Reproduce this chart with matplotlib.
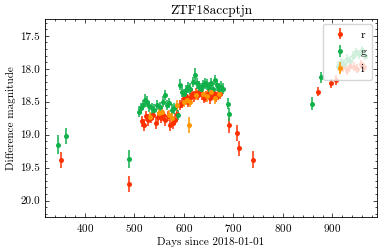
import numpy as np
import matplotlib
matplotlib.use("Agg")
import matplotlib.pyplot as plt

plt.rcParams['font.family'] = 'serif'
plt.rcParams['font.serif'] = ['cmr10', 'DejaVu Serif']
plt.rcParams['axes.formatter.use_mathtext'] = True
plt.rcParams['mathtext.fontset'] = 'cm'
plt.rcParams['font.size'] = 8

# r band
r_days = [352, 489, 515, 519, 523, 528, 533, 538, 543, 548, 553, 558, 563, 568, 573,
          578, 582, 587, 592, 596, 600, 604, 608, 612, 617, 621, 625, 629, 633, 637,
          641, 645, 649, 653, 657, 661, 665, 669, 673, 692, 708, 712, 739,
          871, 897, 907, 915, 922, 929, 936, 943, 950, 957, 964]
r_mags = [19.38, 19.75, 18.80, 18.85, 18.72, 18.78, 18.75, 18.70, 18.82, 18.73, 18.75,
          18.70, 18.78, 18.72, 18.85, 18.82, 18.77, 18.68, 18.55, 18.52, 18.45, 18.42,
          18.50, 18.45, 18.38, 18.42, 18.37, 18.40, 18.35, 18.39, 18.44, 18.42, 18.38,
          18.45, 18.40, 18.37, 18.43, 18.40, 18.38, 18.86, 18.97, 19.21, 19.38,
          18.35, 18.22, 18.17, 18.00, 17.98, 18.02, 17.95, 17.97, 18.00, 17.93, 17.98]
r_errs = [0.12, 0.12, 0.09, 0.09, 0.08, 0.09, 0.08, 0.08, 0.09, 0.08, 0.08,
          0.08, 0.09, 0.08, 0.10, 0.09, 0.08, 0.08, 0.08, 0.08, 0.08, 0.08,
          0.08, 0.08, 0.08, 0.08, 0.08, 0.08, 0.08, 0.08, 0.08, 0.08, 0.08,
          0.08, 0.08, 0.08, 0.08, 0.08, 0.08, 0.12, 0.12, 0.12, 0.13,
          0.07, 0.07, 0.07, 0.07, 0.07, 0.07, 0.07, 0.07, 0.07, 0.07, 0.07]

# g band
g_days = [347, 362, 489, 510, 514, 518, 522, 526, 530, 535, 540, 546, 552, 558, 562,
          567, 571, 576, 581, 588, 593, 596, 601, 605, 609, 613, 618, 622, 626, 630,
          634, 638, 642, 646, 650, 655, 659, 663, 667, 671, 675, 679, 690, 692,
          858, 876, 912, 918, 924, 930, 936, 942, 948, 954, 960, 966]
g_mags = [19.15, 19.02, 19.37, 18.65, 18.60, 18.55, 18.47, 18.50, 18.57, 18.60, 18.62,
          18.55, 18.58, 18.50, 18.40, 18.55, 18.52, 18.62, 18.60, 18.70, 18.24, 18.35,
          18.38, 18.32, 18.28, 18.30, 18.20, 18.09, 18.22, 18.27, 18.30, 18.25, 18.22,
          18.24, 18.28, 18.22, 18.30, 18.17, 18.25, 18.30, 18.27, 18.30, 18.53, 18.69,
          18.53, 18.13, 17.95, 17.90, 17.92, 17.85, 17.88, 17.80, 17.75, 17.78, 17.72, 17.80]
g_errs = [0.15, 0.12, 0.13, 0.08, 0.08, 0.08, 0.08, 0.08, 0.08, 0.08, 0.08,
          0.08, 0.08, 0.08, 0.08, 0.08, 0.08, 0.08, 0.08, 0.08, 0.08, 0.08,
          0.08, 0.08, 0.08, 0.08, 0.08, 0.10, 0.08, 0.08, 0.08, 0.08, 0.08,
          0.08, 0.08, 0.08, 0.08, 0.08, 0.08, 0.08, 0.08, 0.08, 0.08, 0.10,
          0.10, 0.08, 0.07, 0.07, 0.07, 0.07, 0.07, 0.07, 0.07, 0.07, 0.07, 0.07]

# i band
i_days = [532, 550, 556, 570, 577, 586, 600, 606, 610, 613, 625, 638, 646, 655, 662, 672]
i_mags = [18.73, 18.67, 18.65, 18.70, 18.75, 18.55, 18.50, 18.47, 18.85, 18.50,
          18.40, 18.38, 18.42, 18.35, 18.45, 18.38]
i_errs = [0.08, 0.08, 0.08, 0.08, 0.09, 0.08, 0.08, 0.08, 0.12, 0.08,
          0.08, 0.08, 0.08, 0.08, 0.08, 0.08]

fig = plt.figure(figsize=(3.82, 2.52), dpi=100)
ax = fig.add_axes([0.118, 0.139, 0.869, 0.784])

kw = dict(fmt='o', ms=3.6, elinewidth=1.1, capsize=0, mew=0)
ax.errorbar(r_days, r_mags, yerr=r_errs, color='#ff3000', label='r', **kw)
ax.errorbar(g_days, g_mags, yerr=g_errs, color='#10b04a', label='g', **kw)
ax.errorbar(i_days, i_mags, yerr=i_errs, color='#ff9500', label='i', **kw)

ax.set_xlim(320, 990)
ax.set_ylim(20.25, 17.25)
ax.set_xticks([400, 500, 600, 700, 800, 900])
ax.set_yticks([17.5, 18.0, 18.5, 19.0, 19.5, 20.0])
ax.set_yticklabels(['17.5', '18.0', '18.5', '19.0', '19.5', '20.0'])
ax.xaxis.set_minor_locator(plt.MultipleLocator(20))
ax.yaxis.set_minor_locator(plt.MultipleLocator(0.1))
ax.tick_params(which='both', direction='in', top=True, right=True)
ax.tick_params(which='major', length=3, width=0.5)
ax.tick_params(which='minor', length=1.5, width=0.5)
for s in ax.spines.values():
    s.set_linewidth(0.6)

ax.set_xlabel('Days since 2018-01-01', labelpad=2)
ax.set_ylabel('Difference magnitude', labelpad=3)
ax.set_title('ZTF18accptjn', pad=4)
ax.legend(loc='upper right', fontsize=8.5, labelspacing=0.6, borderpad=0.45,
          handletextpad=0.8, handlelength=2.0, borderaxespad=0.4)

fig.savefig('out.png', dpi=100)
